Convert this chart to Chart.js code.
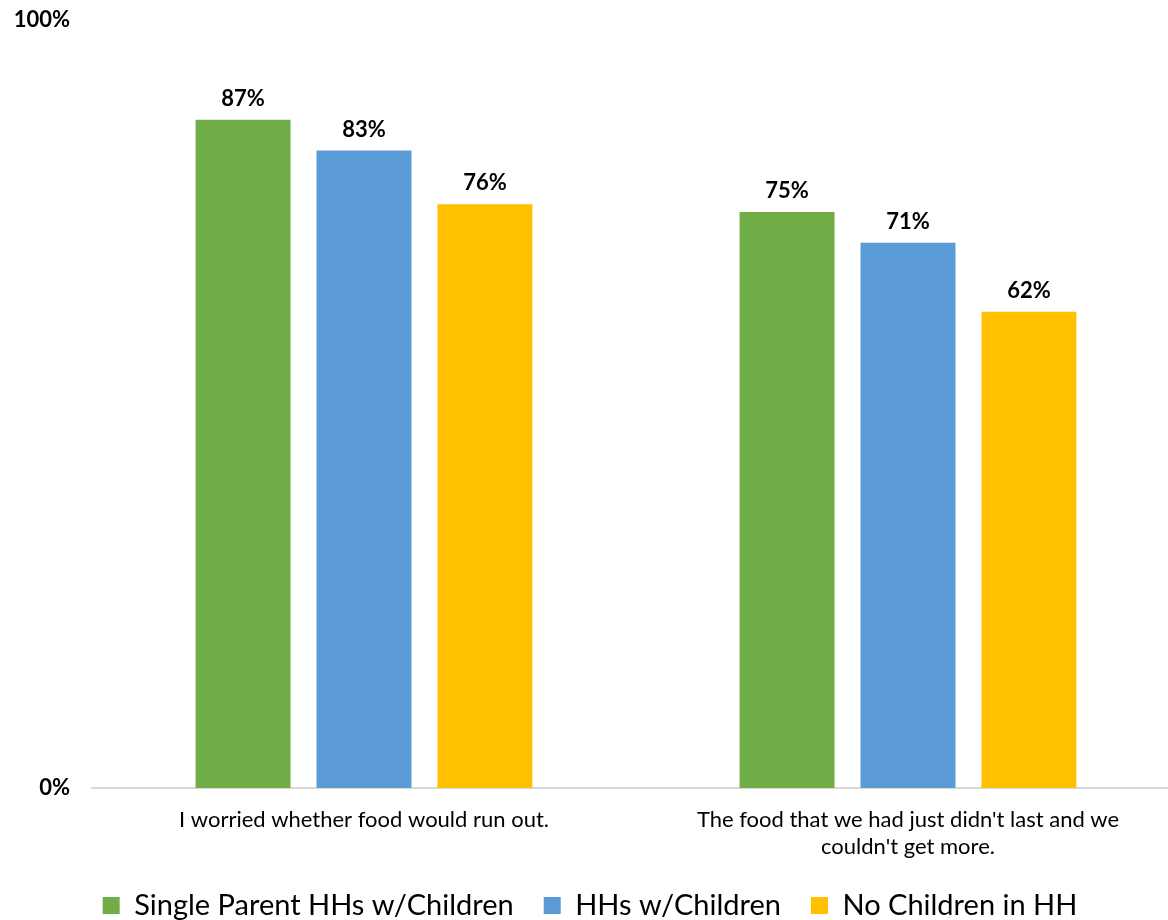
<!DOCTYPE html>
<html>
<head>
<meta charset="utf-8">
<script src="https://cdn.jsdelivr.net/npm/chart.js@4"></script>
<style>
  html, body { margin: 0; padding: 0; background: #fff; overflow: hidden; }
  #wrap { width: 1180px; height: 930px; position: relative; }
</style>
</head>
<body>
<div id="wrap"><canvas id="myChart"></canvas></div>
<script>
var categorias = [
    "I worried whether food would run out.",
    ["The food that we had just didn't last and we", "couldn't get more."]
];
var series = ["Single Parent HHs w/Children", "HHs w/Children", "No Children in HH"];
var valoresSingle = [87, 75];
var valoresComFilhos = [83, 71];
var valoresSemFilhos = [76, 62];
var cores = ["#70AD47", "#5B9BD5", "#FFC000"];
var fonte = "Lato, 'DejaVu Sans', sans-serif";

// rotulo em cima de cada barra
var rotulos = {
    id: "rotulos",
    afterDatasetsDraw: function (chart) {
        var ctx = chart.ctx;
        ctx.save();
        ctx.font = "bold 22px " + fonte;
        ctx.fillStyle = "#000";
        ctx.textAlign = "center";
        ctx.textBaseline = "bottom";
        chart.data.datasets.forEach(function (ds, i) {
            chart.getDatasetMeta(i).data.forEach(function (bar, j) {
                ctx.fillText(ds.data[j] + "%", bar.x, bar.y - 10);
            });
        });
        ctx.restore();
    }
};

var ctx = document.getElementById("myChart");
var myChart = new Chart(ctx, {
    type: "bar",
    data: {
        labels: categorias,
        datasets: [
            { label: series[0], data: valoresSingle, backgroundColor: cores[0] },
            { label: series[1], data: valoresComFilhos, backgroundColor: cores[1] },
            { label: series[2], data: valoresSemFilhos, backgroundColor: cores[2] }
        ]
    },
    options: {
        responsive: true,
        maintainAspectRatio: false,
        animation: false,
        layout: { padding: { top: 20, left: 0, right: 0, bottom: 0 } },
        datasets: { bar: { categoryPercentage: 0.667, barPercentage: 0.785 } },
        plugins: {
            tooltip: { enabled: false },
            legend: {
                position: "bottom",
                labels: {
                    color: "#000",
                    font: { family: fonte, size: 29, lineHeight: 1 },
                    boxWidth: 17,
                    boxHeight: 17,
                    padding: 30
                }
            }
        },
        scales: {
            x: {
                afterFit: function (scale) {
                    scale.height = 73;
                    scale.paddingTop = 0;
                    scale.paddingBottom = 0;
                },
                grid: { display: false, drawTicks: false },
                border: { display: true, color: "#D9D9D9", width: 2 },
                ticks: {
                    color: "#000",
                    font: { family: fonte, size: 22, lineHeight: 1.25 },
                    maxRotation: 0,
                    autoSkip: false,
                    padding: 18
                }
            },
            y: {
                min: 0,
                max: 100,
                afterFit: function (scale) {
                    scale.width = 92;
                    scale.paddingTop = 0;
                    scale.paddingBottom = 0;
                },
                afterBuildTicks: function (scale) {
                    scale.ticks = [{ value: 0 }, { value: 100 }];
                },
                grid: { display: false, drawTicks: false },
                border: { display: false },
                ticks: {
                    color: "#000",
                    font: { family: fonte, size: 22, weight: "bold" },
                    padding: 22,
                    callback: function (v) { return v + "%"; }
                }
            }
        }
    },
    plugins: [rotulos]
});
</script>
</body>
</html>
